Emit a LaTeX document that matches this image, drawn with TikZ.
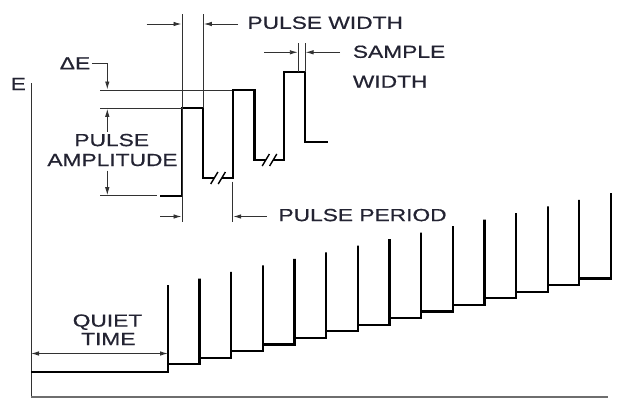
\documentclass[tikz,border=0pt]{standalone}
\usepackage{fontspec}
\setmainfont{Liberation Sans}[FakeStretch=1.3,FakeBold=0.6]
\usetikzlibrary{arrows.meta}
\definecolor{textc}{RGB}{35,35,50}
\definecolor{thinc}{RGB}{50,50,50}
\definecolor{axisc}{RGB}{110,110,110}
\tikzset{
  lbl/.style={inner sep=0pt, text=textc, font=\fontsize{17.5}{20}\selectfont, text depth=0pt},
  wave/.style={line width=2.3pt, black, line join=miter, miter limit=2},
  guide/.style={line width=0.9pt, thinc},
  dimarrow/.style={guide, -{Latex[length=8pt,width=4.5pt]}},
  brk/.style={line width=1.4pt, black},
}
\begin{document}
\begin{tikzpicture}[x=1pt,y=-1pt]
\useasboundingbox (0,0) rectangle (627,399);
% axes
\coordinate (ytop) at (31,83);
\coordinate (orig) at (31,396.7);
\coordinate (xend) at (608,396.7);
\draw[line width=0.9pt, thinc] (ytop) -- (orig);
\draw[line width=1.8pt, axisc] (orig) -- (xend);
\node[lbl] (E) at (18.3,84) {E};

% staircase waveform
\draw[wave] (31,371.7) -- (168,371.7) -- (168,285) -- (168,364.3) -- (199.6,364.3) -- (199.6,278.5) -- (199.6,357.7) -- (231.3,357.7) -- (231.3,271.9) -- (231.3,351.1) -- (262.9,351.1) -- (262.9,265.4) -- (262.9,344.5) -- (294.6,344.5) -- (294.6,258.8) -- (294.6,337.9) -- (326.2,337.9) -- (326.2,252.3) -- (326.2,331.3) -- (357.8,331.3) -- (357.8,245.7) -- (357.8,324.7) -- (389.5,324.7) -- (389.5,239.2) -- (389.5,318.1) -- (421.1,318.1) -- (421.1,232.6) -- (421.1,311.5) -- (452.8,311.5) -- (452.8,226.1) -- (452.8,304.9) -- (484.4,304.9) -- (484.4,219.5) -- (484.4,298.3) -- (516,298.3) -- (516,213) -- (516,291.7) -- (547.7,291.7) -- (547.7,206.4) -- (547.7,285.1) -- (579.3,285.1) -- (579.3,199.9) -- (579.3,278.5) -- (611,278.5) -- (611,193.3);

% quiet time
\coordinate (qL) at (31,353.5);
\coordinate (qR) at (168,353.5);
\draw[guide, {Latex[length=8pt,width=4.5pt]}-{Latex[length=8pt,width=4.5pt]}] (qL) -- (qR);
\node[lbl] (quiet) at (107.5,320.5) {QUIET};
\node[lbl] (time) at (108.3,339) {TIME};

% top pulse waveform
\draw[wave] (160,195.7) -- (182,195.7) -- (182,108.3) -- (203,108.3) -- (203,178) -- (214.3,178);
\draw[wave] (221.8,178) -- (232.7,178) -- (232.7,90) -- (254.5,90) -- (254.5,160) -- (265.8,160);
\draw[wave] (273.2,160) -- (284,160) -- (284,71.7) -- (305,71.7) -- (305,141.7) -- (328.3,141.7);
% break marks
\foreach \cx/\cy in {214.3/178, 221.8/178, 265.8/160, 273.2/160}
  \draw[brk] (\cx-3.6,\cy+6) -- (\cx+3.6,\cy-6);

% guide lines
\draw[guide] (100,90) -- (232,90);
\draw[guide] (100,108.3) -- (182,108.3);
\draw[guide] (100,195.7) -- (157,195.7);
\draw[guide] (182,14) -- (182,221.7);
\draw[guide] (203.3,14) -- (203.3,108.3);
\draw[guide] (232.7,181.7) -- (232.7,221.7);
\draw[guide] (298.3,43.3) -- (298.3,71.7);
\draw[guide] (305,43.3) -- (305,71.7);

% delta E
\node[lbl] (dE) at (75,63.3) {ΔE};
\coordinate (dEbend) at (107.3,63.3);
\coordinate (dEtip) at (107.3,89.5);
\draw[dimarrow] (dE.east) ++(1.5,0) -- (dEbend) -- (dEtip);

% pulse amplitude
\node[lbl] (pa1) at (111.7,140) {PULSE};
\node[lbl] (pa2) at (112.5,160) {AMPLITUDE};
\coordinate (paT) at (107.3,108.8);
\coordinate (paB) at (107.3,195.2);
\draw[dimarrow] (107.3,131.5) -- (paT);
\draw[dimarrow] (107.3,170.5) -- (paB);

% pulse width
\draw[dimarrow] (146.7,24) -- (181.5,24);
\draw[dimarrow] (238,24) -- (203.8,24);
\node[lbl, anchor=west] (pw) at (247.3,22.7) {PULSE WIDTH};

% sample width
\draw[dimarrow] (264,52.3) -- (297.8,52.3);
\draw[dimarrow] (340,52.3) -- (305.5,52.3);
\node[lbl, anchor=west] (sw1) at (352.7,51.7) {SAMPLE};
\node[lbl, anchor=west] (sw2) at (352.7,81.7) {WIDTH};

% pulse period
\draw[dimarrow] (160,216.5) -- (181.5,216.5);
\draw[dimarrow] (266.7,216.5) -- (233.2,216.5);
\node[lbl, anchor=west] (pp) at (278.3,215) {PULSE PERIOD};
\end{tikzpicture}
\end{document}
